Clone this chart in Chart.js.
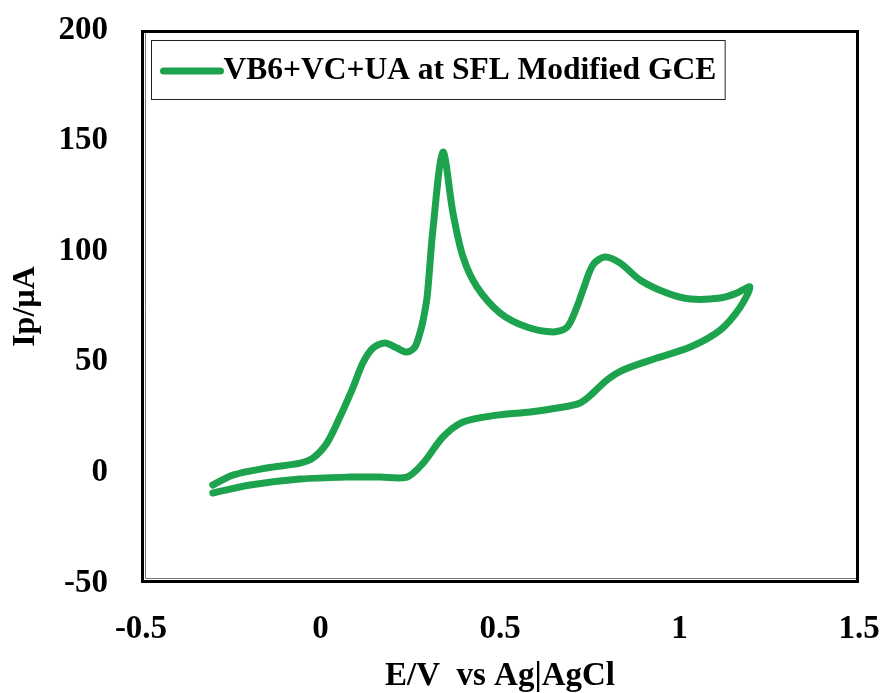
<!DOCTYPE html>
<html>
<head>
<meta charset="utf-8">
<script src="https://cdn.jsdelivr.net/npm/chart.js@4/dist/chart.umd.min.js"></script>
<style>
html,body{margin:0;padding:0;background:#fff;}
#wrap{width:888px;height:693px;position:relative;}
</style>
</head>
<body>
<div id="wrap"><canvas id="c" width="888" height="693"></canvas></div>
<script>
// Potential (V vs Ag|AgCl), forward (anodic) sweep then reverse sweep
const potentialV = [
  -0.300,-0.244,-0.149,-0.057,-0.021,0.018,0.054,0.091,0.118,0.146,0.180,0.213,0.241,0.263,0.277,0.286,0.297,0.313,0.341,0.369,0.397,0.436,0.500,0.575,0.648,0.687,0.714,0.731,0.759,0.792,0.834,0.890,0.965,1.030,1.113,1.160,1.196,
  1.169,1.113,1.030,0.937,0.843,0.798,0.759,0.723,0.659,0.584,0.492,0.397,0.341,0.286,0.241,0.166,0.082,-0.057,-0.196,-0.300
];
const currentUA = [
  -5.7,-1.2,2.0,4.2,6.5,13.3,25.0,38.6,49.5,56.2,58.5,56.2,54.4,56.7,63.0,68.9,79.3,109.5,144.8,117.3,97.4,83.8,72.1,65.7,63.5,65.7,74.7,82.4,93.8,97.4,94.7,87.0,81.1,78.4,78.8,81.1,83.8,
  74.7,64.3,56.7,51.7,46.3,41.8,35.9,31.4,29.1,27.3,25.9,22.8,16.0,4.2,-2.1,-2.1,-2.1,-3.0,-5.7,-9.3
];
const seriesLabel = 'VB6+VC+UA at SFL Modified GCE';
const xTickValues = [-0.5, 0, 0.5, 1, 1.5];
const xTickLabels = ['-0.5', '0', '0.5', '1', '1.5'];
const yTickValues = [-50, 0, 50, 100, 150, 200];
const yTickLabels = ['-50', '0', '50', '100', '150', '200'];
const xTitle = 'E/V  vs Ag|AgCl';
const yTitle = 'Ip/\u00b5A';

const GREEN = 'rgb(29,163,78)';
const FONT = '"Liberation Serif", "Times New Roman", serif';

const points = potentialV.map((x, i) => ({x: x, y: currentUA[i]}));

function zeroPad(s) { s.paddingTop = 0; s.paddingBottom = 0; s.paddingLeft = 0; s.paddingRight = 0; }

const framePlugin = {
  id: 'frame',
  afterDraw(chart) {
    const ctx = chart.ctx;
    const a = chart.chartArea;
    ctx.save();
    ctx.strokeStyle = '#000';
    ctx.lineWidth = 3;
    ctx.strokeRect(a.left + 1.5, a.top + 1.5, a.right - a.left - 3, a.bottom - a.top - 3);
    ctx.strokeStyle = '#777';
    ctx.lineWidth = 1;
    ctx.beginPath();
    ctx.moveTo(a.left + 4.5, a.top + 3);
    ctx.lineTo(a.left + 4.5, a.bottom - 4.5);
    ctx.lineTo(a.right - 3, a.bottom - 4.5);
    ctx.stroke();
    // legend box
    const ds = chart.data.datasets[0];
    ctx.font = 'bold 31.5px ' + FONT;
    const tw = ctx.measureText(ds.label).width;
    const bx = a.left + 10.5, by = a.top + 10.5;
    const lineLen = 57, gap = 3, padL = 12, padR = 9;
    const bw = padL + lineLen + gap + tw + padR;
    const bh = 59;
    ctx.fillStyle = '#fff';
    ctx.fillRect(bx, by, bw, bh);
    ctx.strokeStyle = '#222';
    ctx.lineWidth = 1;
    ctx.strokeRect(bx, by, bw, bh);
    const cy = by + bh / 2 + 1;
    ctx.strokeStyle = ds.borderColor;
    ctx.lineWidth = 7;
    ctx.lineCap = 'round';
    ctx.beginPath();
    ctx.moveTo(bx + padL, cy);
    ctx.lineTo(bx + padL + lineLen, cy);
    ctx.stroke();
    ctx.fillStyle = '#000';
    ctx.textBaseline = 'middle';
    ctx.textAlign = 'left';
    ctx.fillText(ds.label, bx + padL + lineLen + gap, cy);
    ctx.restore();
  }
};

new Chart(document.getElementById('c'), {
  type: 'scatter',
  data: {
    datasets: [{
      label: seriesLabel,
      data: points,
      showLine: true,
      borderColor: GREEN,
      backgroundColor: GREEN,
      borderWidth: 7,
      pointRadius: 0,
      tension: 0.3,
      borderCapStyle: 'round',
      borderJoinStyle: 'round'
    }]
  },
  options: {
    responsive: false,
    animation: false,
    devicePixelRatio: 1,
    layout: {padding: {left: 0, top: 30, right: 29, bottom: 0}},
    plugins: {legend: {display: false}, tooltip: {enabled: false}},
    scales: {
      x: {
        type: 'linear',
        min: -0.5, max: 1.5,
        afterFit(s) { s.height = 110; zeroPad(s); },
        afterBuildTicks(s) { s.ticks = xTickValues.map(v => ({value: v})); },
        grid: {display: false, drawTicks: false},
        border: {display: false},
        ticks: {
          padding: 27,
          color: '#000',
          font: {family: FONT, size: 33, weight: 'bold'},
          callback: (v) => xTickLabels[xTickValues.indexOf(v)]
        },
        title: {
          display: true, text: xTitle, color: '#000',
          font: {family: FONT, size: 33, weight: 'bold', lineHeight: 1},
          padding: {top: 0, bottom: 0}
        }
      },
      y: {
        type: 'linear',
        min: -50, max: 200,
        afterFit(s) { s.width = 141; zeroPad(s); },
        afterBuildTicks(s) { s.ticks = yTickValues.map(v => ({value: v})); },
        grid: {display: false, drawTicks: false},
        border: {display: false},
        ticks: {
          padding: 33,
          color: '#000',
          font: {family: FONT, size: 33, weight: 'bold'},
          callback: (v) => yTickLabels[yTickValues.indexOf(v)]
        },
        title: {
          display: true, text: yTitle, color: '#000',
          font: {family: FONT, size: 32, weight: 'bold', lineHeight: 1},
          padding: {top: 10, bottom: 0}
        }
      }
    }
  },
  plugins: [framePlugin]
});
</script>
</body>
</html>
